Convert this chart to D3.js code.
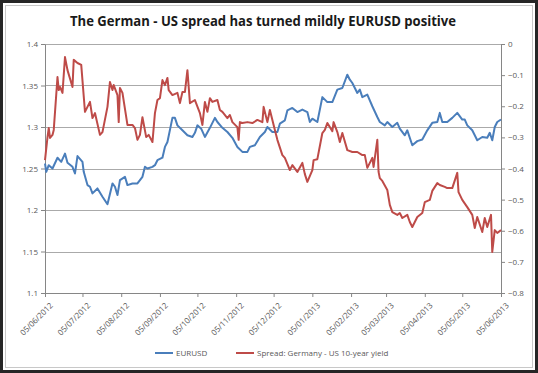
<!DOCTYPE html>
<html>
<head>
<meta charset="utf-8">
<script src="https://cdn.jsdelivr.net/npm/d3@7"></script>
<style>
  html, body { margin: 0; padding: 0; background: #fff; }
  #chart { width: 538px; height: 373px; }
  text { font-family: "Open Sans", "Liberation Sans", sans-serif; }
</style>
</head>
<body>
<div id="chart"></div>
<script>
// EURUSD vs German - US 10y spread, June 2012 - June 2013 (dual axis)
var eurDates = ["2012-06-05","2012-06-06","2012-06-08","2012-06-11","2012-06-15","2012-06-18","2012-06-21","2012-06-23","2012-06-27","2012-06-29",
  "2012-07-01","2012-07-05","2012-07-06","2012-07-09","2012-07-11","2012-07-13","2012-07-17","2012-07-21","2012-07-25","2012-07-29","2012-07-31",
  "2012-08-02","2012-08-04","2012-08-08","2012-08-10","2012-08-14","2012-08-18","2012-08-22","2012-08-24","2012-08-26","2012-08-30",
  "2012-09-01","2012-09-03","2012-09-07","2012-09-09","2012-09-11","2012-09-15","2012-09-17","2012-09-19","2012-09-23","2012-09-27",
  "2012-10-01","2012-10-03","2012-10-05","2012-10-08","2012-10-11","2012-10-15","2012-10-19","2012-10-21","2012-10-25","2012-10-29",
  "2012-11-02","2012-11-06","2012-11-10","2012-11-14","2012-11-16","2012-11-20","2012-11-24","2012-11-28","2012-11-30",
  "2012-12-04","2012-12-08","2012-12-10","2012-12-14","2012-12-16","2012-12-20","2012-12-24","2012-12-28",
  "2013-01-01","2013-01-03","2013-01-05","2013-01-09","2013-01-13","2013-01-15","2013-01-17","2013-01-21","2013-01-25","2013-01-29",
  "2013-02-02","2013-02-04","2013-02-06","2013-02-10","2013-02-12","2013-02-14","2013-02-18","2013-02-22","2013-02-26","2013-02-28",
  "2013-03-04","2013-03-06","2013-03-10","2013-03-14","2013-03-16","2013-03-20","2013-03-22","2013-03-26","2013-03-30",
  "2013-04-03","2013-04-07","2013-04-11","2013-04-15","2013-04-17","2013-04-19","2013-04-23","2013-04-27",
  "2013-05-01","2013-05-05","2013-05-07","2013-05-09","2013-05-13","2013-05-17","2013-05-21","2013-05-25","2013-05-27","2013-05-29","2013-05-31",
  "2013-06-02","2013-06-05"];
var eurValues = [1.256,1.246,1.254,1.250,1.263,1.258,1.268,1.257,1.252,1.244,
  1.265,1.258,1.246,1.230,1.228,1.220,1.226,1.216,1.207,1.232,1.228,
  1.218,1.236,1.240,1.230,1.232,1.232,1.240,1.252,1.250,1.252,
  1.254,1.260,1.263,1.276,1.282,1.311,1.311,1.302,1.296,1.290,
  1.288,1.293,1.302,1.298,1.288,1.299,1.311,1.306,1.299,1.294,
  1.287,1.276,1.270,1.270,1.276,1.278,1.288,1.294,1.300,
  1.294,1.294,1.304,1.308,1.320,1.323,1.318,1.321,
  1.318,1.306,1.310,1.306,1.336,1.333,1.330,1.330,1.345,1.347,
  1.363,1.357,1.353,1.341,1.345,1.336,1.339,1.325,1.312,1.306,
  1.302,1.306,1.300,1.305,1.298,1.290,1.296,1.278,1.283,
  1.285,1.296,1.305,1.306,1.317,1.306,1.306,1.311,
  1.317,1.309,1.309,1.302,1.296,1.284,1.288,1.287,1.293,1.284,1.300,
  1.306,1.309];

var spreadDates = ["2012-06-05","2012-06-07","2012-06-08","2012-06-09","2012-06-11","2012-06-12","2012-06-15","2012-06-16","2012-06-17","2012-06-19",
  "2012-06-21","2012-06-23","2012-06-27","2012-06-28","2012-07-01","2012-07-04","2012-07-07","2012-07-09","2012-07-11","2012-07-13",
  "2012-07-15","2012-07-19","2012-07-21","2012-07-25","2012-07-27","2012-07-29","2012-07-30","2012-08-02","2012-08-03","2012-08-04",
  "2012-08-06","2012-08-10","2012-08-14","2012-08-16","2012-08-18","2012-08-20","2012-08-22","2012-08-25","2012-08-27","2012-08-30",
  "2012-09-01","2012-09-03","2012-09-05","2012-09-07","2012-09-09","2012-09-11","2012-09-12","2012-09-15","2012-09-19","2012-09-21",
  "2012-09-23","2012-09-25","2012-09-27","2012-09-29","2012-10-03","2012-10-07","2012-10-09","2012-10-11","2012-10-13","2012-10-15",
  "2012-10-17","2012-10-21","2012-10-23","2012-10-25","2012-10-29","2012-10-31","2012-11-02","2012-11-06","2012-11-07","2012-11-08",
  "2012-11-10","2012-11-14","2012-11-18","2012-11-22","2012-11-26","2012-11-27","2012-11-30","2012-12-02","2012-12-06","2012-12-08",
  "2012-12-12","2012-12-14","2012-12-18","2012-12-20","2012-12-24","2012-12-28","2012-12-30","2013-01-01","2013-01-05","2013-01-06",
  "2013-01-09","2013-01-13","2013-01-15","2013-01-17","2013-01-21","2013-01-22","2013-01-25","2013-01-27","2013-01-29","2013-02-02",
  "2013-02-06","2013-02-10","2013-02-14","2013-02-16","2013-02-18","2013-02-22","2013-02-23","2013-02-26","2013-02-27","2013-02-28",
  "2013-03-02","2013-03-06","2013-03-08","2013-03-10","2013-03-14","2013-03-16","2013-03-18","2013-03-22","2013-03-24","2013-03-26",
  "2013-03-28","2013-03-30","2013-04-03","2013-04-05","2013-04-09","2013-04-11","2013-04-15","2013-04-17","2013-04-21","2013-04-23",
  "2013-04-27","2013-05-01","2013-05-02","2013-05-05","2013-05-09","2013-05-13","2013-05-15","2013-05-17","2013-05-21","2013-05-23",
  "2013-05-25","2013-05-28","2013-05-29","2013-05-31","2013-06-02","2013-06-05"];
var spreadValues = [-0.373,-0.299,-0.270,-0.302,-0.292,-0.276,-0.106,-0.148,-0.138,-0.157,
  -0.042,-0.084,-0.138,-0.051,-0.061,-0.067,-0.218,-0.202,-0.186,-0.238,
  -0.222,-0.292,-0.283,-0.202,-0.122,-0.148,-0.132,-0.164,-0.251,-0.141,
  -0.157,-0.260,-0.260,-0.270,-0.308,-0.292,-0.235,-0.299,-0.292,-0.315,
  -0.222,-0.180,-0.174,-0.116,-0.132,-0.109,-0.148,-0.164,-0.157,-0.190,
  -0.154,-0.154,-0.084,-0.190,-0.180,-0.222,-0.260,-0.186,-0.218,-0.174,
  -0.186,-0.180,-0.212,-0.218,-0.238,-0.228,-0.251,-0.267,-0.308,-0.251,
  -0.254,-0.251,-0.254,-0.244,-0.251,-0.202,-0.251,-0.212,-0.276,-0.308,
  -0.357,-0.366,-0.405,-0.389,-0.411,-0.382,-0.418,-0.443,-0.405,-0.373,
  -0.370,-0.286,-0.276,-0.254,-0.280,-0.251,-0.283,-0.315,-0.286,-0.341,
  -0.347,-0.347,-0.357,-0.357,-0.398,-0.366,-0.395,-0.308,-0.411,-0.431,
  -0.440,-0.469,-0.517,-0.540,-0.549,-0.543,-0.559,-0.549,-0.572,-0.588,
  -0.572,-0.556,-0.543,-0.508,-0.501,-0.472,-0.447,-0.453,-0.459,-0.463,
  -0.463,-0.414,-0.476,-0.501,-0.524,-0.549,-0.591,-0.556,-0.604,-0.559,
  -0.588,-0.549,-0.668,-0.598,-0.607,-0.598];

var xTickDates = ["2012-06-05","2012-07-05","2012-08-05","2012-09-05","2012-10-05","2012-11-05","2012-12-05",
  "2013-01-05","2013-02-05","2013-03-05","2013-04-05","2013-05-05","2013-06-05"];
var leftTicks = [1.1, 1.15, 1.2, 1.25, 1.3, 1.35, 1.4];
var rightTicks = [0, -0.1, -0.2, -0.3, -0.4, -0.5, -0.6, -0.7, -0.8];
var seriesNames = ["EURUSD", "Spread: Germany - US 10-year yield"];
var seriesColors = ["#4a7ebb", "#be4b48"];
var titleText = "The German - US spread has turned mildly EURUSD positive";

(function () {
    var W = 538, H = 373;
    var margin = { top: 44, right: 37, bottom: 80, left: 45 };
    var innerW = W - margin.left - margin.right;
    var innerH = H - margin.top - margin.bottom;
    var parse = d3.timeParse('%Y-%m-%d');
    var fmt = d3.timeFormat('%d/%m/%Y');
    var axisGrey = '#868686';
    var labelGrey = '#595959';

    var svg = d3.select('#chart').append('svg')
        .attr('width', W).attr('height', H);

    // frame: dark outer edge, soft grey inner edge
    svg.append('rect').attr('x', 1.5).attr('y', 1.5)
        .attr('width', W - 3).attr('height', H - 3)
        .attr('fill', '#fff').attr('stroke', '#262626').attr('stroke-width', 3);
    svg.append('rect').attr('x', 5.5).attr('y', 5.5)
        .attr('width', W - 11).attr('height', H - 11)
        .attr('fill', 'none').attr('stroke', '#c8c8c8').attr('stroke-width', 1);

    // title squeezed to the narrow width of the original Calibri heading
    svg.append('text')
        .attr('x', 70).attr('y', 26)
        .attr('font-family', 'Lato, "Open Sans", sans-serif')
        .attr('font-size', 15).attr('font-weight', 'bold')
        .attr('textLength', 386).attr('lengthAdjust', 'spacingAndGlyphs')
        .attr('fill', '#1a1a1a')
        .text(titleText);

    var x = d3.scaleTime()
        .domain([parse(xTickDates[0]), parse(xTickDates[xTickDates.length - 1])])
        .range([0, innerW]);
    var yL = d3.scaleLinear().domain([1.1, 1.4]).range([innerH, 0]);
    var yR = d3.scaleLinear().domain([-0.8, 0]).range([innerH, 0]);

    var g = svg.append('g')
        .attr('transform', 'translate(' + margin.left + ',' + margin.top + ')');

    // gridlines from the left axis
    g.append('g').selectAll('line')
        .data(leftTicks.slice(1))
        .enter().append('line')
        .attr('x1', 0).attr('x2', innerW)
        .attr('y1', function (d) { return Math.round(yL(d)) + 0.5; })
        .attr('y2', function (d) { return Math.round(yL(d)) + 0.5; })
        .attr('stroke', '#aaaaaa').attr('stroke-width', 1);

    function styleAxis(sel) {
        sel.select('.domain').attr('stroke', axisGrey);
        sel.selectAll('.tick line').attr('stroke', axisGrey);
        sel.selectAll('.tick text').attr('fill', labelGrey)
            .attr('font-size', 8)
            .attr('font-family', '"Open Sans", "Liberation Sans", sans-serif');
    }

    var xAxis = g.append('g')
        .attr('transform', 'translate(0,' + innerH + ')')
        .call(d3.axisBottom(x)
            .tickValues(xTickDates.map(parse))
            .tickFormat(fmt).tickSize(4).tickSizeOuter(0));
    styleAxis(xAxis);
    xAxis.selectAll('.tick text')
        .attr('text-anchor', 'end')
        .attr('dx', 0).attr('dy', 0)
        .attr('transform', 'translate(3,8) rotate(-45)');

    var leftAxis = g.append('g')
        .call(d3.axisLeft(yL).tickValues(leftTicks)
            .tickFormat(d3.format('')).tickSize(4).tickSizeOuter(0));
    styleAxis(leftAxis);
    leftAxis.selectAll('.tick text').attr('x', -7);

    var rightAxis = g.append('g')
        .attr('transform', 'translate(' + innerW + ',0)')
        .call(d3.axisRight(yR).tickValues(rightTicks)
            .tickFormat(function (d) { return d === 0 ? '0' : d3.format('.1f')(d); })
            .tickSize(4).tickSizeOuter(0));
    styleAxis(rightAxis);
    rightAxis.selectAll('.tick text').attr('x', 7);

    var eur = eurDates.map(function (d, i) { return [parse(d), eurValues[i]]; });
    var spread = spreadDates.map(function (d, i) { return [parse(d), spreadValues[i]]; });

    g.append('path').datum(eur)
        .attr('fill', 'none').attr('stroke', seriesColors[0])
        .attr('stroke-width', 2).attr('stroke-linejoin', 'round')
        .attr('d', d3.line()
            .x(function (d) { return x(d[0]); })
            .y(function (d) { return yL(d[1]); }));

    g.append('path').datum(spread)
        .attr('fill', 'none').attr('stroke', seriesColors[1])
        .attr('stroke-width', 2).attr('stroke-linejoin', 'round')
        .attr('d', d3.line()
            .x(function (d) { return x(d[0]); })
            .y(function (d) { return yR(d[1]); }));

    // legend
    var legendX = [155, 236];
    var legend = svg.append('g').attr('transform', 'translate(0,353)');
    seriesNames.forEach(function (name, i) {
        legend.append('line')
            .attr('x1', legendX[i]).attr('x2', legendX[i] + 18)
            .attr('y1', 0).attr('y2', 0)
            .attr('stroke', seriesColors[i]).attr('stroke-width', 2);
        legend.append('text')
            .attr('x', legendX[i] + 21).attr('y', 3)
            .attr('font-size', 8).attr('fill', labelGrey)
            .text(name);
    });
})();
</script>
</body>
</html>
